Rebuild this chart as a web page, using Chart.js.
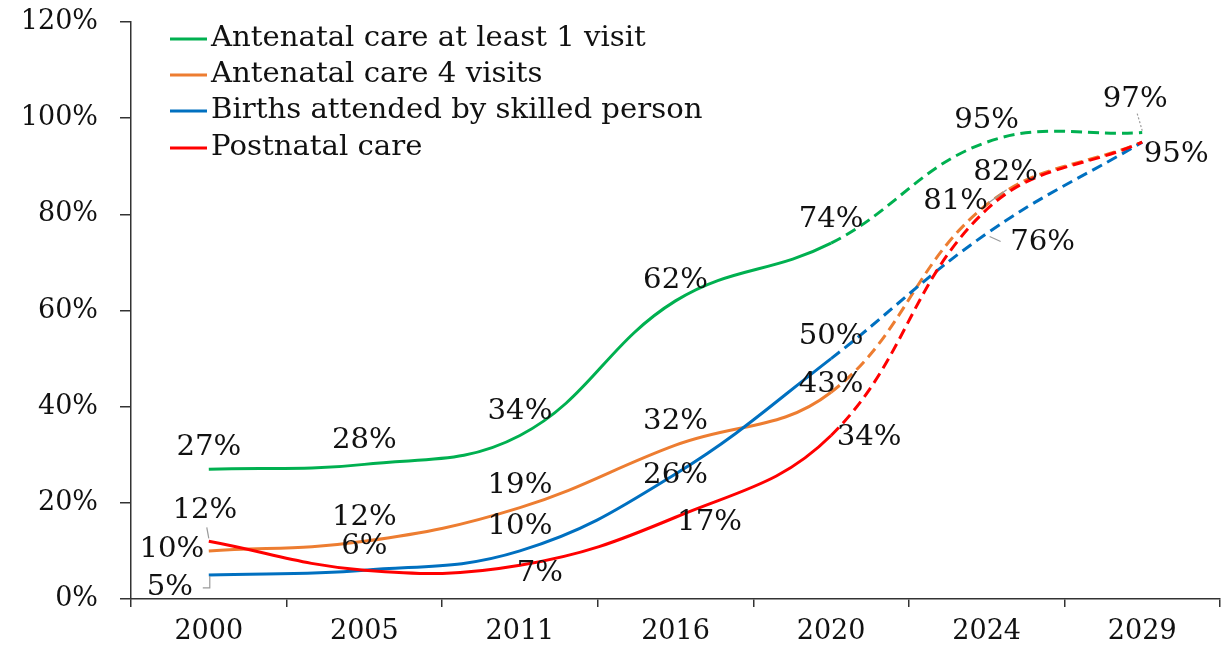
<!DOCTYPE html>
<html>
<head>
<meta charset="utf-8">
<script src="https://cdn.jsdelivr.net/npm/chart.js@4/dist/chart.umd.min.js"></script>
<style>
html,body{margin:0;padding:0;background:#fff;}
#wrap{width:1221px;height:645px;position:relative;}
</style>
</head>
<body>
<div id="wrap"><canvas id="c" width="1221" height="645"></canvas></div>
<script>
// ---- data ----
const years = ['2000','2005','2011','2016','2020','2024','2029'];
const ancOneVisit = [27, 28, 34, 62, 74, 95, 97];
const ancFourVisits = [10, 12, 19, 32, 43, 82, 95];
const skilledBirths = [5, 6, 10, 26, 50, 76, 95];
const postnatalCare = [12, 6, 7, 17, 34, 81, 95];
const seriesNames = ['Antenatal care at least 1 visit', 'Antenatal care 4 visits', 'Births attended by skilled person', 'Postnatal care'];
const yTicks = [0, 20, 40, 60, 80, 100, 120];
const projectionStart = 4; // index of 2020, dashed after

const colors = ['#00B050', '#ED7D31', '#0070C0', '#FF0000'];
const FONT = '"DejaVu Serif", "Liberation Serif", serif';
const FS = 27;
const SX = 1.08; // horizontal stretch for drawn labels

// label offsets relative to point (px); null = no label
const labelOffsets = [
  [[0,-21],[0,-23],[0,-24],[0,-20],[0,-23],[0,-21],[-7,-33]],
  [[-37,-1],[0,-23],[0,-22],[0,-23],[0,-7],[19,-32],[34,13]],
  [[-39,13],[0,-23],[0,-24],[0,2],[0,-22],[56,9],null],
  [[-4,-30],null,[20,9],[34,6],[38,2],[-31,-8],null]
];
const leaders = [
  {6:{pts:[[-5,-19],[0,-2]],dash:[2,2]}},
  {5:{pts:[[20,-15],[2,-2]]}},
  {0:{pts:[[-6,13],[1,13],[1,1]]}, 5:{pts:[[14,8],[3,3]]}},
  {0:{pts:[[-2,-14],[0,-3]]}}
];

const seriesData = [ancOneVisit, ancFourVisits, skilledBirths, postnatalCare];

const datasets = seriesData.map((d, i) => ({
  label: seriesNames[i],
  data: d,
  order: 3 - i,
  borderColor: colors[i],
  backgroundColor: colors[i],
  borderWidth: 3,
  pointRadius: 0,
  pointHoverRadius: 0,
  tension: 0.4,
  fill: false,
  segment: {
    borderDash: ctx => ctx.p0DataIndex >= projectionStart ? [11, 6] : undefined
  }
}));

function stretchedText(ctx, txt, x, y, align) {
  ctx.save();
  ctx.translate(x, y);
  ctx.scale(SX, 1);
  ctx.textAlign = align;
  ctx.fillText(txt, 0, 0);
  ctx.restore();
}

const labelPlugin = {
  id: 'labelsAndLegend',
  afterDatasetsDraw(chart) {
    const ctx = chart.ctx;
    ctx.save();
    // leaders
    chart.data.datasets.forEach((ds, i) => {
      const meta = chart.getDatasetMeta(i);
      const L = leaders[i];
      Object.keys(L).forEach(k => {
        const p = meta.data[+k];
        const spec = L[k];
        ctx.beginPath();
        ctx.strokeStyle = '#9a9a9a';
        ctx.lineWidth = 1.2;
        ctx.setLineDash(spec.dash || []);
        spec.pts.forEach((q, n) => {
          if (n === 0) ctx.moveTo(p.x + q[0], p.y + q[1]);
          else ctx.lineTo(p.x + q[0], p.y + q[1]);
        });
        ctx.stroke();
      });
    });
    ctx.setLineDash([]);
    // data labels
    ctx.font = FS + 'px ' + FONT;
    ctx.fillStyle = '#111';
    ctx.textBaseline = 'middle';
    chart.data.datasets.forEach((ds, i) => {
      const meta = chart.getDatasetMeta(i);
      ds.data.forEach((v, j) => {
        const off = labelOffsets[i][j];
        if (!off) return;
        const p = meta.data[j];
        stretchedText(ctx, v + '%', p.x + off[0], p.y + off[1], 'center');
      });
    });
    // legend
    const rowY = [39, 75, 111, 148];
    seriesNames.forEach((n, i) => {
      ctx.beginPath();
      ctx.strokeStyle = colors[i];
      ctx.lineWidth = 3;
      ctx.moveTo(170, rowY[i]);
      ctx.lineTo(207, rowY[i]);
      ctx.stroke();
      ctx.fillStyle = '#111';
      stretchedText(ctx, n, 211, rowY[i], 'left');
    });
    ctx.restore();
  }
};

new Chart(document.getElementById('c'), {
  type: 'line',
  data: { labels: years, datasets },
  options: {
    responsive: false,
    animation: false,
    events: [],
    layout: { padding: { top: 22, right: 1, left: 0, bottom: 0 } },
    plugins: { legend: { display: false }, tooltip: { enabled: false } },
    scales: {
      x: {
        type: 'category',
        offset: true,
        grid: { offset: true, drawOnChartArea: false, drawTicks: true, tickLength: 8, color: '#333', lineWidth: 1.5 },
        border: { display: true, color: '#333', width: 1.5 },
        ticks: { color: '#111', font: { family: FONT, size: FS }, padding: 9, maxRotation: 0 },
        afterFit(s) { s.height = 46; s.paddingLeft = 0; s.paddingRight = 0; }
      },
      y: {
        min: 0, max: 120,
        afterBuildTicks(s) { s.ticks = yTicks.map(v => ({ value: v })); },
        grid: { drawOnChartArea: false, drawTicks: true, tickLength: 11, color: '#333', lineWidth: 1.5 },
        border: { display: true, color: '#333', width: 1.5 },
        ticks: { color: '#111', font: { family: FONT, size: FS }, padding: 22, callback: v => v + '%' },
        afterFit(s) { s.width = 131; s.paddingTop = 0; s.paddingBottom = 0; }
      }
    }
  },
  plugins: [labelPlugin]
});
</script>
</body>
</html>
